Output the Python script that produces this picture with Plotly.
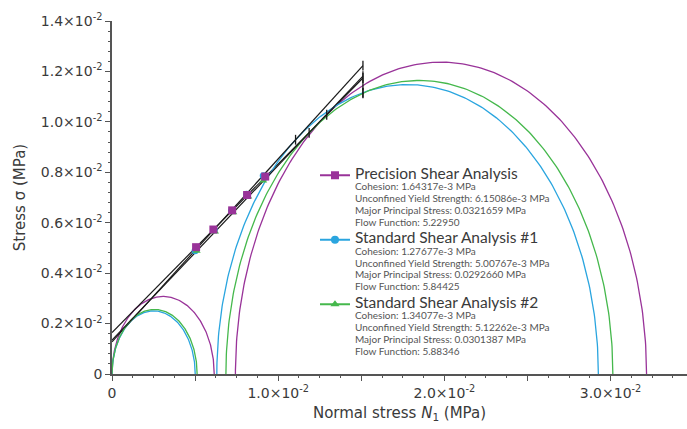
import numpy as np
import plotly.graph_objects as go

# Shear-cell test results (MPa)
tests = ["Precision Shear Analysis", "Standard Shear Analysis #1", "Standard Shear Analysis #2"]
cohesion = [1.64317e-3, 1.27677e-3, 1.34077e-3]
unconfined_yield = [6.15086e-3, 5.00767e-3, 5.12262e-3]
major_principal = [0.0321659, 0.0292660, 0.0301387]
flow_function = [5.22950, 5.84425, 5.88346]

# Pre-shear normal stress and measured shear points
preshear_sigma = 0.0151
shear_sigma = [
    [0.00506, 0.00610, 0.00723, 0.00813, 0.00922],
    [0.00500, 0.00615, 0.00720, 0.00810, 0.00910],
    [0.00510, 0.00620, 0.00730, 0.00820, 0.00910],
]
shear_tau = [
    [0.00503, 0.00573, 0.00649, 0.00710, 0.00783],
    [0.00489, 0.00572, 0.00648, 0.00713, 0.00786],
    [0.00488, 0.00564, 0.00641, 0.00703, 0.00766],
]

colors = ["#993399", "#2AA5DF", "#45B84C"]
symbols = ["square", "circle", "triangle-up"]
FONT = "DejaVu Sans"
LEGEND_FONT = "Lato"

fig = go.Figure()
theta = np.linspace(0, np.pi, 241)


def half_circle(a, r):
    return a + r * np.cos(theta), r * np.sin(theta)


tick_x, tick_y = [], []
for i in range(3):
    c, fc, s1 = cohesion[i], unconfined_yield[i], major_principal[i]
    # yield locus slope: tangent to the unconfined circle
    u = c / (fc / 2)
    t = (1 - u * u) / (2 * u)
    k = np.sqrt(1 + t * t)
    # major consolidation circle tangent to the same locus
    a = (s1 - c / k) / (1 + t / k)
    r = s1 - a

    x, y = half_circle(fc / 2, fc / 2)
    fig.add_trace(go.Scatter(x=x, y=y, mode="lines", line=dict(color=colors[i], width=1.3),
                             showlegend=False, hoverinfo="skip"))
    x, y = half_circle(a, r)
    fig.add_trace(go.Scatter(x=x, y=y, mode="lines", line=dict(color=colors[i], width=1.3),
                             showlegend=False, hoverinfo="skip"))

    # tangent point on the consolidation circle, locus end, pre-shear point
    sphi, cphi = t / k, 1 / k
    tick_x += [a - r * sphi, preshear_sigma, preshear_sigma]
    tick_y += [r * cphi, c + t * preshear_sigma, np.sqrt(max(r * r - (preshear_sigma - a) ** 2, 0))]

    fig.add_trace(go.Scatter(x=[0, preshear_sigma], y=[c, c + t * preshear_sigma], mode="lines",
                             line=dict(color="#1a1a1a", width=1.2), showlegend=False, hoverinfo="skip"))

for i in [1, 2, 0]:
    fig.add_trace(go.Scatter(x=shear_sigma[i], y=shear_tau[i], mode="markers",
                             marker=dict(symbol=symbols[i], size=8 if i == 0 else 7, color=colors[i]),
                             showlegend=False, hoverinfo="skip"))

fig.add_trace(go.Scatter(x=tick_x, y=tick_y, mode="markers",
                         marker=dict(symbol="line-ns", size=7, line=dict(color="#1a1a1a", width=1.3)),
                         showlegend=False, hoverinfo="skip"))


def small(text):
    return f"<span style='font-size:10px'>{text}</span>"


# legend entries, one group per test
for i in range(3):
    name = "<br>".join([
        f"<span style='font-size:15.5px;color:#3a3a3a'>{tests[i]}</span>",
        small(f"Cohesion: {cohesion[i]*1e3:.5f}e-3 MPa"),
        small(f"Unconfined Yield Strength: {unconfined_yield[i]*1e3:.5f}e-3 MPa"),
        small(f"Major Principal Stress: {major_principal[i]:.7f} MPa"),
        small(f"Flow Function: {flow_function[i]:.5f}"),
    ])
    fig.add_trace(go.Scatter(x=[None], y=[None], mode="lines+markers", name=name,
                             legendgroup=f"test{i}",
                             line=dict(color=colors[i], width=2),
                             marker=dict(symbol=symbols[i], size=8, color=colors[i])))

x_major = [0, 0.005, 0.01, 0.015, 0.02, 0.025, 0.03]
x_text = ["0", "", "1.0×10<sup>-2</sup>", "", "2.0×10<sup>-2</sup>", "", "3.0×10<sup>-2</sup>"]
y_major = [0, 0.002, 0.004, 0.006, 0.008, 0.010, 0.012, 0.014]
y_text = ["0"] + [f"{v*100:.1f}×10<sup>-2</sup>" for v in y_major[1:]]

axis_common = dict(showgrid=False, zeroline=False, showline=True, linecolor="#555555", linewidth=1.5,
                   ticks="outside", tickcolor="#555555", tickwidth=1.2, ticklen=5,
                   tickfont=dict(family=FONT, size=14, color="#3a3a3a"))

fig.update_layout(
    width=687, height=429,
    margin=dict(l=112, r=0, t=21, b=55),
    plot_bgcolor="white", paper_bgcolor="white",
    xaxis=dict(range=[0, 0.0346], tickvals=x_major, ticktext=x_text,
               minor=dict(dtick=0.00125, ticklen=2, tickcolor="#555555", ticks="outside"),
               title=dict(text="Normal stress <i>N</i><sub>1</sub> (MPa)", font=dict(family=FONT, size=15, color="#3a3a3a"),
                          standoff=8),
               **axis_common),
    yaxis=dict(range=[0, 0.014], tickvals=y_major, ticktext=y_text,
               minor=dict(dtick=0.0004, ticklen=2, tickcolor="#555555", ticks="outside"),
               title=dict(text="Stress σ (MPa)", font=dict(family=FONT, size=15, color="#3a3a3a"), standoff=12),
               **axis_common),
    legend=dict(x=0.353, y=0.598, xanchor="left", yanchor="top", valign="top",
                bgcolor="rgba(0,0,0,0)", itemwidth=30, tracegroupgap=3,
                font=dict(family=LEGEND_FONT, size=9, color="#555555")),
)

fig.write_html("out.html")
